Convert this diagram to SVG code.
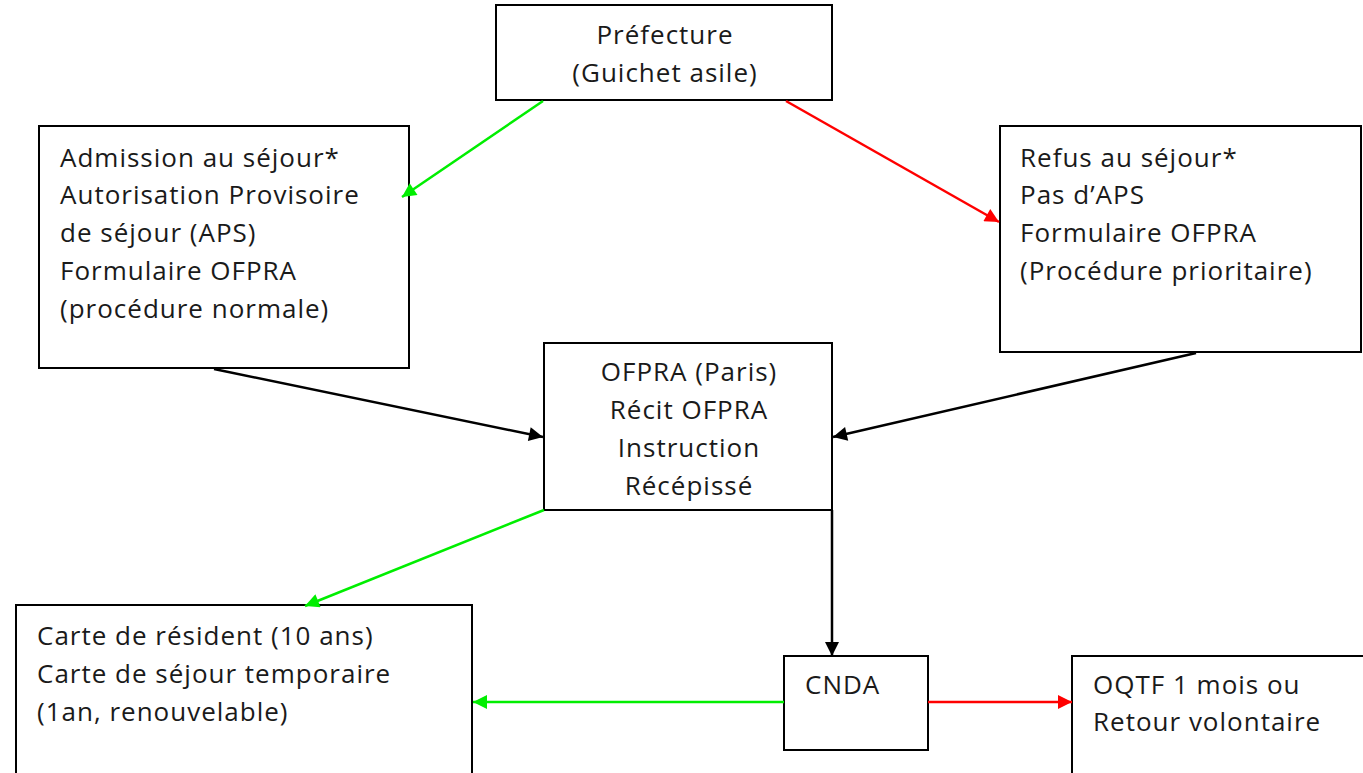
<svg xmlns="http://www.w3.org/2000/svg" width="1363" height="773" viewBox="0 0 1363 773">
<style>
.box{fill:#fff;stroke:#000;stroke-width:2}
text{font-family:"Open Sans","DejaVu Sans",sans-serif;font-size:26px;letter-spacing:1px;fill:#1a1a1a}
.c{text-anchor:middle}
.g{stroke:#00ee00;stroke-width:2.5;fill:none}
.r{stroke:#ff0000;stroke-width:2.5;fill:none}
.k{stroke:#000;stroke-width:2.5;fill:none}
</style>
<defs>
<marker id="mg" markerWidth="15" markerHeight="14" refX="10" refY="5" orient="auto" markerUnits="userSpaceOnUse" viewBox="0 0 10 10"><path d="M0,0 L10,5 L0,10 z" fill="#00ee00"/></marker>
<marker id="mr" markerWidth="15" markerHeight="14" refX="10" refY="5" orient="auto" markerUnits="userSpaceOnUse" viewBox="0 0 10 10"><path d="M0,0 L10,5 L0,10 z" fill="#ff0000"/></marker>
<marker id="mk" markerWidth="15" markerHeight="14" refX="10" refY="5" orient="auto" markerUnits="userSpaceOnUse" viewBox="0 0 10 10"><path d="M0,0 L10,5 L0,10 z" fill="#000"/></marker>
</defs>
<rect width="1363" height="773" fill="#fff"/>
<g id="prefecture">
<rect class="box" x="496" y="5" width="336" height="95"/>
<text class="c" x="665" y="44">Préfecture</text>
<text class="c" x="665" y="82">(Guichet asile)</text>
</g>
<g id="admission">
<rect class="box" x="39" y="126" width="370" height="242"/>
<text x="60" y="167">Admission au séjour*</text>
<text x="60" y="204">Autorisation Provisoire</text>
<text x="60" y="242">de séjour (APS)</text>
<text x="60" y="280">Formulaire OFPRA</text>
<text x="60" y="318">(procédure normale)</text>
</g>
<g id="refus">
<rect class="box" x="1000" y="126" width="361" height="226"/>
<text x="1020" y="167">Refus au séjour*</text>
<text x="1020" y="204">Pas d’APS</text>
<text x="1020" y="242">Formulaire OFPRA</text>
<text x="1020" y="280">(Procédure prioritaire)</text>
</g>
<g id="ofpra">
<rect class="box" x="544" y="343" width="288" height="167"/>
<text class="c" x="689" y="381">OFPRA (Paris)</text>
<text class="c" x="689" y="419">Récit OFPRA</text>
<text class="c" x="689" y="457">Instruction</text>
<text class="c" x="689" y="495">Récépissé</text>
</g>
<g id="carte">
<rect class="box" x="16" y="605" width="456" height="170"/>
<text x="37" y="645">Carte de résident (10 ans)</text>
<text x="37" y="683">Carte de séjour temporaire</text>
<text x="37" y="721">(1an, renouvelable)</text>
</g>
<g id="cnda">
<rect class="box" x="784" y="656" width="144" height="94"/>
<text x="805" y="694">CNDA</text>
</g>
<g id="oqtf">
<rect class="box" x="1072" y="656" width="293" height="120"/>
<text x="1093" y="694">OQTF 1 mois ou</text>
<text x="1093" y="731">Retour volontaire</text>
</g>
<g id="connectors">
<line class="g" x1="543" y1="101" x2="402" y2="197" marker-end="url(#mg)"/>
<line class="r" x1="786" y1="101" x2="999" y2="222" marker-end="url(#mr)"/>
<line class="k" x1="214" y1="369" x2="543" y2="437" marker-end="url(#mk)"/>
<line class="k" x1="1196" y1="353" x2="833" y2="437" marker-end="url(#mk)"/>
<line class="g" x1="544" y1="510" x2="305" y2="606" marker-end="url(#mg)"/>
<line class="k" x1="832" y1="510" x2="832" y2="656" marker-end="url(#mk)"/>
<line class="g" x1="784" y1="702" x2="473" y2="702" marker-end="url(#mg)"/>
<line class="r" x1="928" y1="702" x2="1072" y2="702" marker-end="url(#mr)"/>
</g>
</svg>
